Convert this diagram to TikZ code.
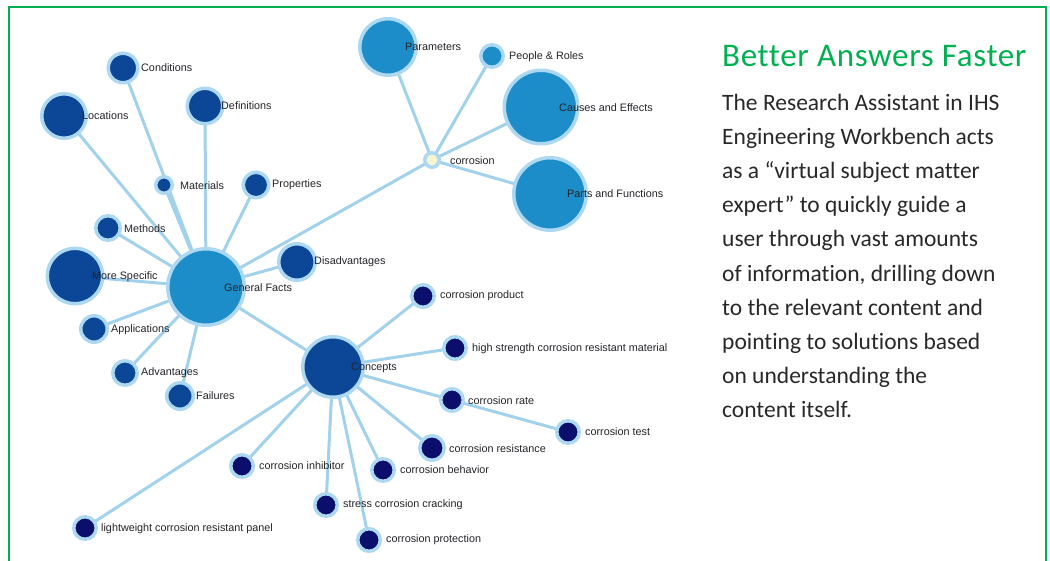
\documentclass[tikz,border=0pt]{standalone}
\usepackage{fontspec}
\setmainfont{Liberation Sans}
\newfontfamily\calibri{Carlito}[Ligatures={NoCommon}]
\newfontfamily\calibrititle{Carlito}[LetterSpace=2, Ligatures={NoCommon}]
\usepackage{tikz}
\usetikzlibrary{positioning}

\definecolor{framegreen}{RGB}{0,176,80}
\definecolor{midblue}{RGB}{28,141,200}
\definecolor{factblue}{RGB}{12,70,150}
\definecolor{termblue}{RGB}{12,14,108}
\definecolor{hubyellow}{RGB}{245,245,205}
\definecolor{ringblue}{RGB}{172,216,242}
\definecolor{linkblue}{RGB}{162,210,235}
\definecolor{labelgray}{RGB}{35,35,40}
\definecolor{bodygray}{RGB}{40,40,40}

\pgfdeclarelayer{bg}
\pgfsetlayers{bg,main}

\tikzset{
  topic/.style={circle, draw=ringblue, line width=3.5pt, inner sep=0pt},
  hub/.style={topic, fill=hubyellow},
  facet/.style={topic, fill=midblue},
  fact/.style={topic, fill=factblue},
  term/.style={topic, fill=termblue, minimum size=22.5pt},
  lbl/.style={anchor=west, inner sep=0pt, text=labelgray, font=\fontsize{10.8}{12}\selectfont},
  link/.style={draw=linkblue, line width=3pt},
}

\begin{document}
\begin{tikzpicture}[x=1pt, y=-1pt]
    \useasboundingbox (0,0) rectangle (1050,561);

    % Frame
    \draw[framegreen, line width=2.5pt] (9,561) -- (9,7) -- (1046,7) -- (1046,561);

    % Hub and its facets
    \node[hub, minimum size=14.5pt] (corrosion) at (432,160) {};
    \node[facet, minimum size=56.5pt] (params) at (388,47) {};
    \node[facet, minimum size=22.5pt] (people) at (492,56) {};
    \node[facet, minimum size=73.5pt] (causes) at (541,107) {};
    \node[facet, minimum size=72.5pt] (parts) at (550,194) {};
    \node[facet, minimum size=76.5pt] (general) at (206,287) {};

    % General facts
    \node[fact, minimum size=29.5pt] (conditions) at (123,68) {};
    \node[fact, minimum size=44.5pt] (locations) at (64,116) {};
    \node[fact, minimum size=35.5pt] (definitions) at (205,106) {};
    \node[fact, minimum size=16.5pt] (materials) at (164,185) {};
    \node[fact, minimum size=25.5pt] (properties) at (256,185) {};
    \node[fact, minimum size=24.5pt] (methods) at (108,228) {};
    \node[fact, minimum size=55.5pt] (specific) at (75,276) {};
    \node[fact, minimum size=36.5pt] (disadv) at (297,262) {};
    \node[fact, minimum size=26.5pt] (applications) at (94,329) {};
    \node[fact, minimum size=24.5pt] (advantages) at (125,373) {};
    \node[fact, minimum size=26.5pt] (failures) at (180,396) {};
    \node[fact, minimum size=60.5pt] (concepts) at (333,367) {};

    % Concept terms
    \node[term] (product) at (423,296) {};
    \node[term] (highstrength) at (455,348) {};
    \node[term] (rate) at (452,400) {};
    \node[term] (test) at (568,432) {};
    \node[term, minimum size=24.5pt] (resistance) at (432,448) {};
    \node[term] (behavior) at (383,470) {};
    \node[term] (inhibitor) at (242,466) {};
    \node[term] (cracking) at (326,505) {};
    \node[term] (protection) at (369,540) {};
    \node[term] (panel) at (85,528) {};

    % Links
    \begin{pgfonlayer}{bg}
    \foreach \t in {params,people,causes,parts,general}
        \draw[link] (corrosion.center) -- (\t.center);
    \foreach \t in {conditions,locations,definitions,materials,properties,methods,specific,disadv,applications,advantages,failures,concepts}
        \draw[link] (general.center) -- (\t.center);
    \foreach \t in {product,highstrength,rate,resistance,behavior,inhibitor,cracking,protection,panel}
        \draw[link] (concepts.center) -- (\t.center);
    \draw[link] (rate.center) -- (test.center);
    \end{pgfonlayer}

    % Labels
    \node[lbl] (l-corrosion) at (450,161) {corrosion};
    \node[lbl] (l-params) at (405,47) {Parameters};
    \node[lbl] (l-people) at (509,57) {People \& Roles};
    \node[lbl] (l-causes) at (559,108) {Causes and Effects};
    \node[lbl] (l-parts) at (567,194) {Parts and Functions};
    \node[lbl] (l-general) at (224,288) {General Facts};
    \node[lbl] (l-conditions) at (141,68) {Conditions};
    \node[lbl] (l-locations) at (82,116) {Locations};
    \node[lbl] (l-definitions) at (221,106) {Definitions};
    \node[lbl] (l-materials) at (180,186) {Materials};
    \node[lbl] (l-properties) at (272,185) {Properties};
    \node[lbl] (l-methods) at (124,229) {Methods};
    \node[lbl] (l-specific) at (92,277) {More Specific};
    \node[lbl] (l-disadv) at (314,262) {Disadvantages};
    \node[lbl] (l-applications) at (111,330) {Applications};
    \node[lbl] (l-advantages) at (141,373) {Advantages};
    \node[lbl] (l-failures) at (196,396) {Failures};
    \node[lbl] (l-concepts) at (351,368) {Concepts};
    \node[lbl] (l-product) at (440,296) {corrosion product};
    \node[lbl] (l-highstrength) at (472,349) {high strength corrosion resistant material};
    \node[lbl] (l-rate) at (468,401) {corrosion rate};
    \node[lbl] (l-test) at (585,432) {corrosion test};
    \node[lbl] (l-resistance) at (449,449) {corrosion resistance};
    \node[lbl] (l-behavior) at (400,470) {corrosion behavior};
    \node[lbl] (l-inhibitor) at (259,466) {corrosion inhibitor};
    \node[lbl] (l-cracking) at (343,505) {stress corrosion cracking};
    \node[lbl] (l-protection) at (386,540) {corrosion protection};
    \node[lbl] (l-panel) at (101,529) {lightweight corrosion resistant panel};

    % Side text
    \node[anchor=base west, inner sep=0pt, text=framegreen, font=\calibrititle\fontsize{33}{40}\selectfont] (title) at (722,67) {Better Answers Faster};
    \node[anchor=north west, inner sep=0pt, align=left, text=bodygray, font=\calibri\fontsize{23.5}{34.1}\selectfont] (blurb) at (722,94) {The Research Assistant in IHS\\Engineering Workbench acts\\as a “virtual subject matter\\expert” to quickly guide a\\user through vast amounts\\of information, drilling down\\to the relevant content and\\pointing to solutions based\\on understanding the\\content itself.};
\end{tikzpicture}
\end{document}
